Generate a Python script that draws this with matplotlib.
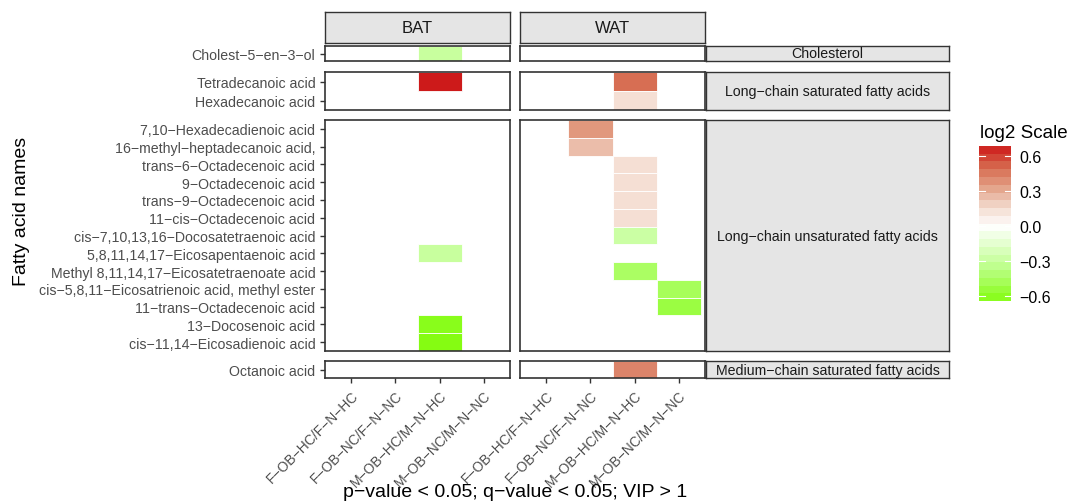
import numpy as np
import matplotlib
matplotlib.use("Agg")
import matplotlib.pyplot as plt
from matplotlib.colors import LinearSegmentedColormap, Normalize

plt.rcParams['font.family'] = ['Liberation Sans', 'DejaVu Sans']

W, H = 1072, 502

tissues = ["BAT", "WAT"]
comparisons = ["F−OB−HC/F−N−HC", "F−OB−NC/F−N−NC", "M−OB−HC/M−N−HC", "M−OB−NC/M−N−NC"]

groups = ["Cholesterol", "Long−chain saturated fatty acids",
          "Long−chain unsaturated fatty acids", "Medium−chain saturated fatty acids"]
cholesterol = ["Cholest−5−en−3−ol"]
lc_saturated = ["Tetradecanoic acid", "Hexadecanoic acid"]
lc_unsaturated = ["7,10−Hexadecadienoic acid", "16−methyl−heptadecanoic acid,",
                  "trans−6−Octadecenoic acid", "9−Octadecenoic acid",
                  "trans−9−Octadecenoic acid", "11−cis−Octadecenoic acid",
                  "cis−7,10,13,16−Docosatetraenoic acid", "5,8,11,14,17−Eicosapentaenoic acid",
                  "Methyl 8,11,14,17−Eicosatetraenoate acid",
                  "cis−5,8,11−Eicosatrienoic acid, methyl ester",
                  "11−trans−Octadecenoic acid", "13−Docosenoic acid",
                  "cis−11,14−Eicosadienoic acid"]
mc_saturated = ["Octanoic acid"]
group_members = [cholesterol, lc_saturated, lc_unsaturated, mc_saturated]

# significant log2 fold changes (acid, comparison index, value)
bat_acid = ["Cholest−5−en−3−ol", "Tetradecanoic acid", "5,8,11,14,17−Eicosapentaenoic acid",
            "13−Docosenoic acid", "cis−11,14−Eicosadienoic acid"]
bat_comp = [2, 2, 2, 2, 2]
bat_val = [-0.30, 0.686, -0.30, -0.62, -0.643]

wat_acid = ["Tetradecanoic acid", "Hexadecanoic acid", "7,10−Hexadecadienoic acid",
            "16−methyl−heptadecanoic acid,", "trans−6−Octadecenoic acid", "9−Octadecenoic acid",
            "trans−9−Octadecenoic acid", "11−cis−Octadecenoic acid",
            "cis−7,10,13,16−Docosatetraenoic acid", "Methyl 8,11,14,17−Eicosatetraenoate acid",
            "cis−5,8,11−Eicosatrienoic acid, methyl ester", "11−trans−Octadecenoic acid",
            "Octanoic acid"]
wat_comp = [2, 2, 1, 1, 2, 2, 2, 2, 2, 2, 3, 3, 2]
wat_val = [0.49, 0.14, 0.36, 0.25, 0.14, 0.14, 0.14, 0.14, -0.28, -0.45, -0.47, -0.53, 0.42]

tissue_data = {"BAT": (bat_acid, bat_comp, bat_val), "WAT": (wat_acid, wat_comp, wat_val)}

cb_lo, cb_hi = -0.643, 0.686
cb_ticks = [-0.6, -0.3, 0.0, 0.3, 0.6]

cmap = LinearSegmentedColormap.from_list("gw_r", [
    (0.0, "#7CFC00"), (0.25, "#C0FF90"), (0.5, "#FFFFFF"),
    (0.62, "#F3DACD"), (0.75, "#E29E84"), (0.87, "#D6694E"), (1.0, "#CD1A1A")])
norm = Normalize(-0.686, 0.686)


def box(x0, y0, x1, y1):
    return [x0 / W, 1 - y1 / H, (x1 - x0) / W, (y1 - y0) / H]


fig = plt.figure(figsize=(W / 100, H / 100), dpi=100)

col_x = [(325, 510), (520, 705)]
row_y = [(47, 62), (73, 111), (121, 352), (362, 379)]
border = "#333333"

for gi, (grp, members) in enumerate(zip(groups, group_members)):
    y0, y1 = row_y[gi]
    for ti, tis in enumerate(tissues):
        x0, x1 = col_x[ti]
        ax = fig.add_axes(box(x0, y0, x1, y1))
        acids, comps, vals = tissue_data[tis]
        for a, c, v in zip(acids, comps, vals):
            if a in members:
                yi = members.index(a)
                ax.add_patch(plt.Rectangle((c - 0.5, yi - 0.5), 1, 1,
                                           facecolor=cmap(norm(v)), edgecolor="white", lw=0.6))
        ax.set_xlim(-0.6, 3.6)
        ax.set_ylim(len(members) - 0.5, -0.5)
        ax.set_facecolor("white")
        for s in ax.spines.values():
            s.set_color(border)
            s.set_linewidth(1.2)
        ax.tick_params(colors=border, length=3.5, width=1.0, labelcolor="#4D4D4D", labelsize=10.2)
        if ti == 0:
            ax.set_yticks(range(len(members)))
            ax.set_yticklabels(members)
        else:
            ax.set_yticks([])
        if gi == len(groups) - 1:
            ax.set_xticks(range(len(comparisons)))
            ax.set_xticklabels(comparisons, rotation=45, ha="right", va="top",
                               rotation_mode="anchor", fontsize=10)
        else:
            ax.set_xticks([])
    # row strip
    sax = fig.add_axes(box(706, y0, 949, y1))
    sax.set_facecolor("#E5E5E5")
    sax.set_xticks([])
    sax.set_yticks([])
    for s in sax.spines.values():
        s.set_color(border)
        s.set_linewidth(1.0)
    sax.text(0.5, 0.5, grp, ha="center", va="center", fontsize=10.2, color="#1A1A1A",
             transform=sax.transAxes)

# column strips
for ti, tis in enumerate(tissues):
    x0, x1 = col_x[ti]
    sax = fig.add_axes(box(x0, 13, x1, 44))
    sax.set_facecolor("#E5E5E5")
    sax.set_xticks([])
    sax.set_yticks([])
    for s in sax.spines.values():
        s.set_color(border)
        s.set_linewidth(1.0)
    sax.text(0.5, 0.5, tis, ha="center", va="center", fontsize=12, color="#1A1A1A",
             transform=sax.transAxes)

fig.text(22 / W, 1 - 211 / H, "Fatty acid names", rotation=90, ha="center", va="center",
         fontsize=14)
fig.text(515 / W, 1 - 484 / H, "p−value < 0.05; q−value < 0.05; VIP > 1", ha="center",
         va="top", fontsize=14)

# colour legend
fig.text(980 / W, 1 - 133 / H, "log2 Scale", ha="left", va="center", fontsize=13.5)
cax = fig.add_axes(box(979, 147, 1011, 302))
edges = np.linspace(cb_lo, cb_hi, 21)
centers = (edges[:-1] + edges[1:]) / 2
cax.pcolormesh([0, 1], edges, centers.reshape(-1, 1), cmap=cmap, norm=norm, shading="flat")
for t in cb_ticks:
    cax.plot([0, 0.2], [t, t], color="white", lw=0.8)
    cax.plot([0.8, 1], [t, t], color="white", lw=0.8)
cax.set_xlim(0, 1)
cax.set_ylim(cb_lo, cb_hi)
cax.set_xticks([])
cax.yaxis.tick_right()
cax.set_yticks(cb_ticks)
cax.set_yticklabels([f"{t:.1f}".replace("-", "−") for t in cb_ticks])
cax.tick_params(length=0, labelsize=11.5, pad=6)
for s in cax.spines.values():
    s.set_visible(False)

fig.savefig("out.png", dpi=100)
